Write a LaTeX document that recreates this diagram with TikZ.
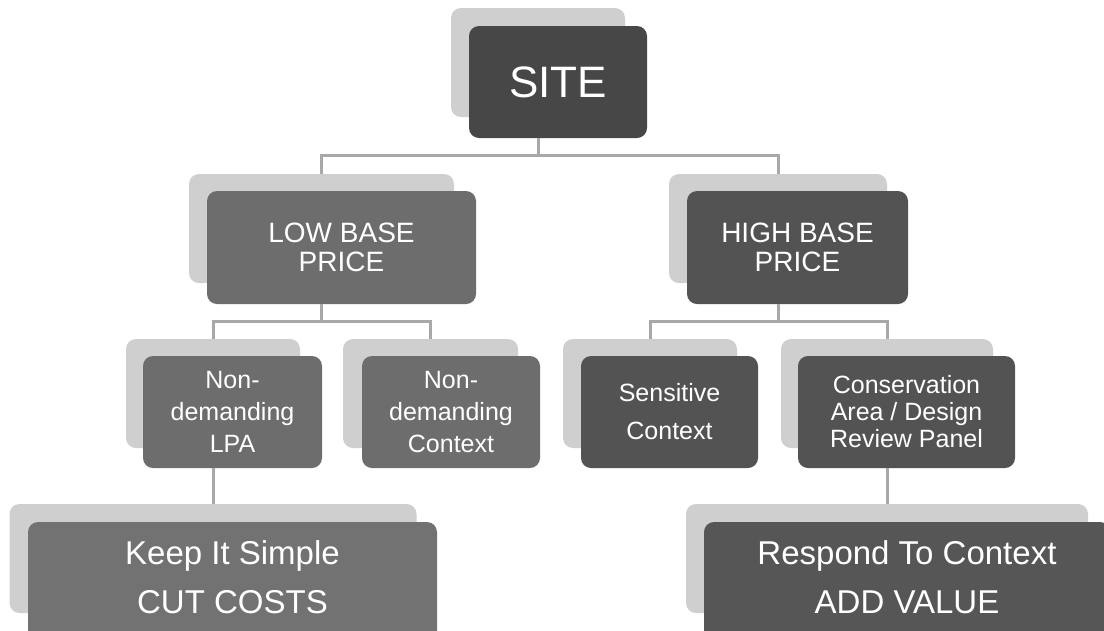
\documentclass[tikz,border=0pt]{standalone}
\usepackage{fontspec}
\setmainfont{Liberation Sans}
\definecolor{backgray}{HTML}{CFCFCF}
\definecolor{conncol}{HTML}{A8A8A8}
\definecolor{siteC}{HTML}{474747}
\definecolor{lightC}{HTML}{6D6D6D}
\definecolor{darkC}{HTML}{535353}
\definecolor{bottomL}{HTML}{727272}
\definecolor{bottomR}{HTML}{565656}
\begin{document}
\begin{tikzpicture}[x=1pt,y=-1pt,
  backbox/.style={fill=backgray, rounded corners=10pt, inner sep=0pt},
  frontbox/.style={rounded corners=10pt, text=white, align=center, inner sep=0pt},
  conn/.style={draw=conncol, line width=3pt},
  fsite/.style={font=\fontsize{44}{48}\selectfont},
  fmid/.style={font=\fontsize{28}{29}\selectfont},
  fsmall/.style={font=\fontsize{25}{#1}\selectfont},
  fbig/.style={font=\fontsize{33}{49}\selectfont}]
\useasboundingbox (0,0) rectangle (1104,630);
\clip (0,0) rectangle (1104,630);
\fill[white] (0,0) rectangle (1104,630);

% back boxes
\node[backbox, minimum width=174pt, minimum height=109pt] (siteB) at (538,62.5) {};
\node[backbox, minimum width=265pt, minimum height=109pt] (lowB) at (321.5,228.5) {};
\node[backbox, minimum width=218pt, minimum height=109pt] (highB) at (778,228.5) {};
\node[backbox, minimum width=174pt, minimum height=109pt] (aB) at (213,393.5) {};
\node[backbox, minimum width=175pt, minimum height=109pt] (bB) at (430.5,393.5) {};
\node[backbox, minimum width=174pt, minimum height=109pt] (cB) at (650,393.5) {};
\node[backbox, minimum width=212pt, minimum height=109pt] (dB) at (887,393.5) {};
\node[backbox, minimum width=407pt, minimum height=109pt] (eB) at (213,558.5) {};
\node[backbox, minimum width=402pt, minimum height=109pt] (fB) at (887,558.5) {};

% front boxes
\node[frontbox, fill=siteC, fsite, minimum width=178pt, minimum height=112pt] (site) at (558,82) {SITE};
\node[frontbox, fill=lightC, fmid, minimum width=269pt, minimum height=113pt] (low) at (341.5,247.5) {LOW BASE\\PRICE};
\node[frontbox, fill=darkC, fmid, minimum width=221pt, minimum height=113pt] (high) at (797.5,247.5) {HIGH BASE\\PRICE};
\node[frontbox, fill=lightC, fsmall=32, minimum width=179pt, minimum height=112pt] (a) at (232.5,412) {Non-\\demanding\\LPA};
\node[frontbox, fill=lightC, fsmall=32, minimum width=178pt, minimum height=112pt] (b) at (451,412) {Non-\\demanding\\Context};
\node[frontbox, fill=darkC, fsmall=38, minimum width=177pt, minimum height=112pt] (c) at (669.5,412) {Sensitive\\Context};
\node[frontbox, fill=darkC, fsmall=27, minimum width=217pt, minimum height=112pt] (d) at (906.5,412) {Conservation\\Area / Design\\Review Panel};
\node[frontbox, fill=bottomL, fbig, text depth=20pt, minimum width=409pt, minimum height=130pt] (e) at (232.5,587) {Keep It Simple\\CUT COSTS};
\node[frontbox, fill=bottomR, fbig, text depth=20pt, minimum width=406pt, minimum height=130pt] (f) at (907,587) {Respond To Context\\ADD VALUE};

% connectors
\draw[conn] (siteB.center |- site.south) -- ++(0,17) coordinate (j1) -| (lowB.north);
\draw[conn] (j1) -| (highB.north);
\draw[conn] (lowB.center |- low.south) -- ++(0,17.5) coordinate (j2) -| (aB.north);
\draw[conn] (j2) -| (bB.north);
\draw[conn] (highB.center |- high.south) -- ++(0,17) coordinate (j3) -| (cB.north);
\draw[conn] (j3) -| (dB.north);
\draw[conn] (aB.center |- a.south) -- (eB.north);
\draw[conn] (dB.center |- d.south) -- (fB.north);
\end{tikzpicture}
\end{document}
